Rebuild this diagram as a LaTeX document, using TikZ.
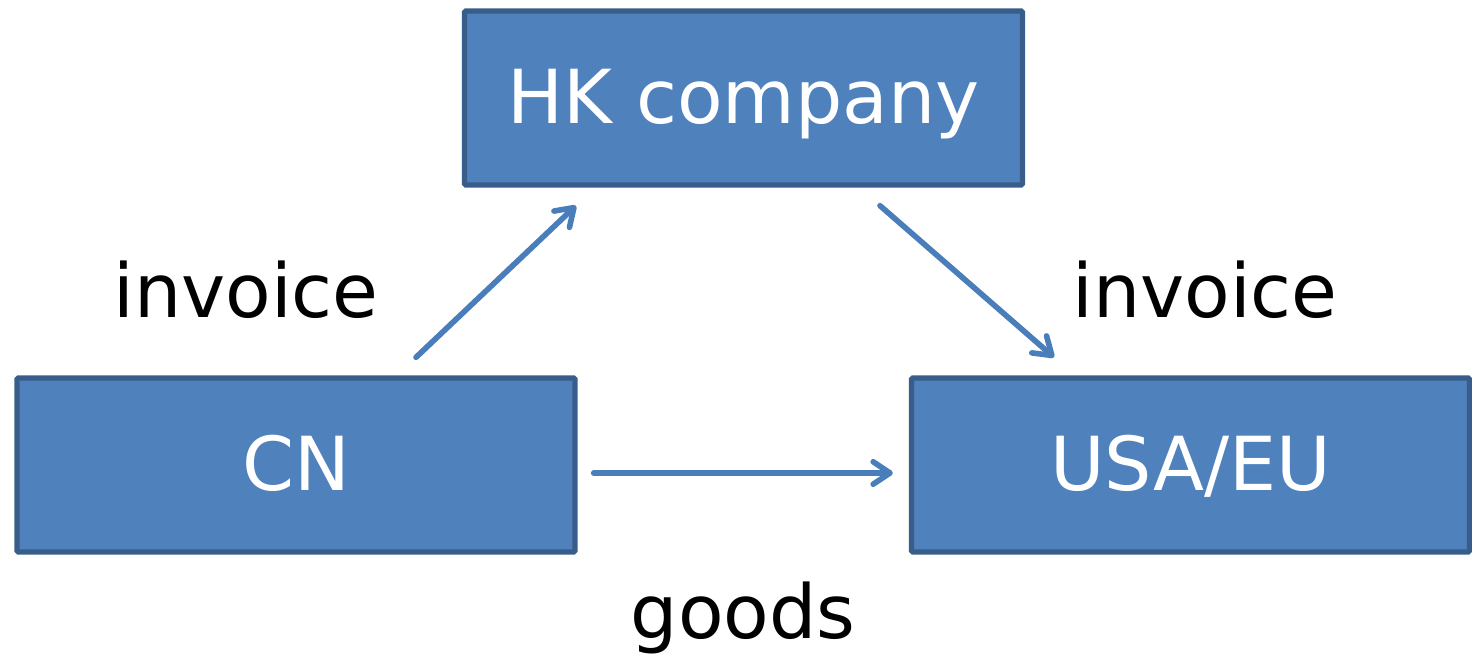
\documentclass[tikz,border=0pt]{standalone}
\usepackage{fontspec}
\setmainfont{DejaVu Sans}
\usetikzlibrary{arrows.meta}

\definecolor{boxfill}{HTML}{4F81BD}
\definecolor{boxline}{HTML}{385D8A}
\definecolor{flowline}{HTML}{4A7EBB}

\tikzset{
  party/.style={draw=boxline, fill=boxfill, line width=3.8pt,
    minimum width=558*0.025cm, minimum height=174*0.025cm,
    text height=38.6pt, text depth=3pt,
    text=white, font=\fontsize{53}{64}\selectfont, rounded corners=1pt},
  flow/.style={draw=flowline, line width=4pt, line cap=round,
    -{Straight Barb[length=12pt, width=16pt, round]}},
  lbl/.style={font=\fontsize{53}{64}\selectfont, anchor=base}
}

\begin{document}
\begin{tikzpicture}[x=0.025cm, y=0.025cm]
\useasboundingbox (0,0) rectangle (1472,653);

% The three parties
\node[party] (hk) at (743.5,555) {HK company};
\node[party] (cn) at (296,188) {CN};
\node[party] (us) at (1190.5,188) {USA/EU};

% Invoices go through Hong Kong
\draw[flow] ([shift={(120,18)}]cn.north) -- ([shift={(-167.5,-18)}]hk.south);
\draw[flow] ([shift={(136.5,-18)}]hk.south) -- ([shift={(-136.5,18)}]us.north);

% Goods are shipped directly
\draw[flow] ([shift={(16,-8)}]cn.east) -- ([shift={(-16,-8)}]us.west);

% Labels
\node[lbl] (inv1) at (246,335) {invoice};
\node[lbl] (inv2) at (1205,335) {invoice};
\node[lbl] (goods) at (743,15) {goods};
\end{tikzpicture}
\end{document}
